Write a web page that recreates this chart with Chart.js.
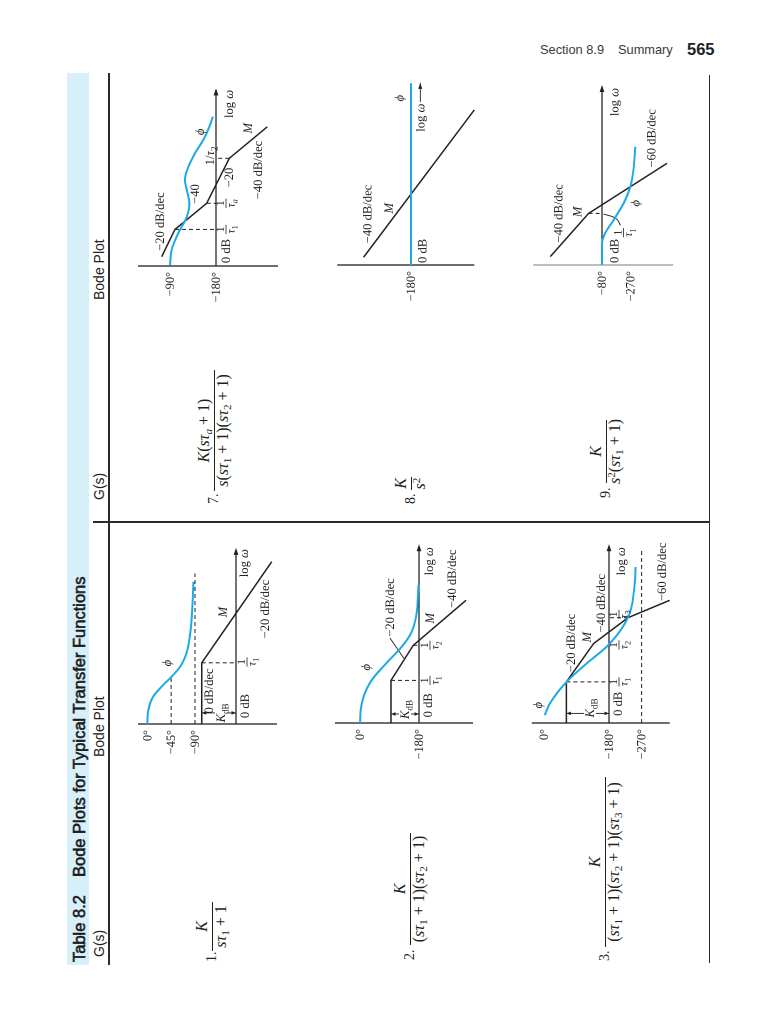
<!DOCTYPE html>
<html><head><meta charset="utf-8">
<script src="https://cdn.jsdelivr.net/npm/chart.js@4.4.0/dist/chart.umd.min.js"></script>
<style>
html,body{margin:0;padding:0;background:#fff;}
body{width:768px;height:1024px;position:relative;overflow:hidden;font-family:"Liberation Sans",Arial,sans-serif;}
#page{position:absolute;left:0;top:0;width:1024px;height:768px;transform-origin:0 0;transform:translate(0,1024px) rotate(-90deg);}
.abs{position:absolute;white-space:nowrap;}
.rule{position:absolute;background:#2b2b2b;}
.sans{font-family:"Liberation Sans",Arial,sans-serif;}
.serif{font-family:"Liberation Serif","DejaVu Serif","Times New Roman",serif;color:#231f20;}
canvas{position:absolute;}
.sub{font-size:0.7em;vertical-align:-0.28em;line-height:0;}
.sup{font-size:0.7em;vertical-align:0.45em;line-height:0;}
</style></head>
<body>
<div id="page"></div>
<script>
// ---------------- DATA ----------------
// x = log ω (decades from the plot origin), magnitude in dB, phase in degrees
const p1MagW = [0, 2.04, 5.41];
const p1MagDB = [34.3, 34.3, -35.7];
const p1PhW = [0, 0.47, 0.91, 1.3, 1.58, 1.91, 2.37, 3.03, 3.91, 4.74];
const p1PhDeg = [0, -2, -11, -30, -46, -62, -74, -81, -85, -87];
const p1Ticks = [0, -45, -90];
const p1TickLabels = ['0°', '−45°', '−90°'];

const p2MagW = [0, 1.42, 2.59, 4.09];
const p2MagDB = [28, 28, 5.7, -47];
const p2PhW = [0, 0.5, 1.0, 1.45, 2.0, 2.55, 3.0, 3.6, 4.6];
const p2PhDeg = [0, -3, -15, -37, -81, -128, -156, -172, -178];
const p2Ticks = [0, -180];
const p2TickLabels = ['0°', '−180°'];

const p3MagW = [0, 1.37, 2.65, 3.51, 4.09];
const p3MagDB = [42.6, 42.6, 15.3, -19, -60.7];
const p3PhW = [0.26, 0.65, 1.37, 1.98, 2.62, 3.51, 4.65, 5.2];
const p3PhDeg = [-3, -17, -63, -118, -180, -232, -251, -253];
const p3Ticks = [0, -180, -270];
const p3TickLabels = ['0°', '−180°', '−270°'];

const p7MagW = [0.31, 1.22, 2.09, 3.59, 4.64];
const p7MagDB = [54.3, 41, 9.3, -13.3, -51.3];
const p7PhW = [0.03, 0.53, 1.09, 1.64, 2.09, 2.53, 2.87, 3.31, 3.76, 4.2, 4.64, 4.98];
const p7PhDeg = [-90, -93, -106, -123, -128, -123, -119, -126, -139, -155, -167, -174];
const p7Ticks = [-90, -180];
const p7TickLabels = ['−90°', '−180°'];

const p8MagW = [0.26, 5.17];
const p8MagDB = [47.4, -63.3];
const p8PhW = [0, 6.06];
const p8PhDeg = [-180, -180];
const p8Ticks = [-180];
const p8TickLabels = ['−180°'];

const p9MagW = [0.28, 1.72, 3.39];
const p9MagDB = [51.7, 13.4, -65];
const p9PhW = [0, 0.72, 1.06, 1.5, 2.06, 2.61, 3.17, 3.94];
const p9PhDeg = [-180, -180, -190, -217, -249, -270, -280, -286];
const p9Ticks = [-180, -270];
const p9TickLabels = ['−80°', '−270°'];

// ---------------- STYLE / LAYOUT ----------------
const INK = '#231f20';
const BLUE = '#1da9e4';
const SERIF = '"Liberation Serif","DejaVu Serif","Times New Roman",serif';
const PXDEC = 30, LEFT = 55, RIGHT = 195, UP = 110, DOWN = 75;
const LBL = 12.6, TICK = 12.4, FRAC = 11.5;

const page = document.getElementById('page');

function addText(parent, html, u, base, size, cls, align, extra) {
  const el = document.createElement('div');
  el.className = 'abs ' + cls;
  el.innerHTML = html;
  el.style.fontSize = size + 'px';
  el.style.lineHeight = size + 'px';
  el.style.left = u + 'px';
  el.style.top = (base - 0.84 * size) + 'px';
  if (align === 'center') el.style.transform = 'translateX(-50%)';
  if (align === 'right') el.style.transform = 'translateX(-100%)';
  if (extra) Object.assign(el.style, extra);
  parent.appendChild(el);
  return el;
}
function addRule(parent, l, t, w, h, color) {
  const d = document.createElement('div');
  d.className = 'rule';
  d.style.left = l + 'px'; d.style.top = t + 'px';
  d.style.width = w + 'px'; d.style.height = h + 'px';
  if (color) d.style.background = color;
  parent.appendChild(d);
}

// page header (unrotated)
addText(document.body, 'Section 8.9', 540, 55, 12.8, 'sans', 'left', {color:'#3a3a3a'});
addText(document.body, 'Summary', 618, 55, 12.8, 'sans', 'left', {color:'#3a3a3a'});
addText(document.body, '565', 687, 55, 16.5, 'sans', 'left', {fontWeight:'bold', color:'#222'});

// table frame (rotated page coordinates)
const band = document.createElement('div');
band.className = 'abs';
Object.assign(band.style, {left:'59px', top:'67px', width:'892px', height:'22px', background:'#d6eff9'});
page.appendChild(band);
const titleStyle = {color:'#1a1a1a', webkitTextStroke:'0.55px #1a1a1a'};
addText(page, 'Table 8.2', 62, 85, 16.5, 'sans', 'left', titleStyle);
addText(page, 'Bode Plots for Typical Transfer Functions', 147, 85, 16.5, 'sans', 'left', titleStyle);
addText(page, 'G(s)', 67, 104, 14, 'sans', 'left', {color:'#222'});
addText(page, 'Bode Plot', 267, 104, 14, 'sans', 'left', {color:'#222'});
addText(page, 'G(s)', 524, 104, 14, 'sans', 'left', {color:'#222'});
addText(page, 'Bode Plot', 724, 104, 14, 'sans', 'left', {color:'#222'});
addRule(page, 59, 108.4, 892, 1.3);
addRule(page, 501.4, 93, 1.3, 616.5);
addRule(page, 61, 708.6, 888, 1.3);

// formulas
const S = s => '<span class="sub">' + s + '</span>';
const P = s => '<span class="sup">' + s + '</span>';
const st = n => '<i>sτ</i>' + S(n) + ' + 1';
const formulas = [
  {n:'1.', nu:62, num:'<i>K</i>', den: st('1'), u1:73, u2:122, v:212},
  {n:'2.', nu:64, num:'<i>K</i>', den:'(' + st('1') + ')(' + st('2') + ')', u1:79, u2:191, v:410},
  {n:'3.', nu:63, num:'<i>K</i>', den:'(' + st('1') + ')(' + st('2') + ')(' + st('3') + ')', u1:77, u2:247, v:605},
  {n:'7.', nu:520, num:'<i>K</i>(<i>sτ</i>' + S('<i>a</i>') + ' + 1)', den:'<i>s</i>(' + st('1') + ')(' + st('2') + ')', u1:533, u2:654, v:214},
  {n:'8.', nu:520, num:'<i>K</i>', den:'<i>s</i>' + P('2'), u1:534, u2:547, v:411},
  {n:'9.', nu:526, num:'<i>K</i>', den:'<i>s</i>' + P('2') + '(' + st('1') + ')', u1:541, u2:604, v:606}
];
formulas.forEach(f => {
  addText(page, f.n, f.nu, f.v + 5, 14, 'serif', 'left');
  addRule(page, f.u1, f.v - 0.5, f.u2 - f.u1, 1, INK);
  addText(page, f.num, (f.u1 + f.u2) / 2, f.v - 4.5, 16, 'serif', 'center');
  addText(page, f.den, (f.u1 + f.u2) / 2, f.v + 14.5, 16, 'serif', 'center');
});

// ---------------- rich text helpers for canvas ----------------
function runsOf(s) {
  const runs = []; let it = false, i = 0, buf = '';
  const push = (t, mode) => { if (t) runs.push({t, it, mode}); };
  while (i < s.length) {
    const c = s[i];
    if (c === '*') { push(buf, 'n'); buf = ''; it = !it; i++; }
    else if ((c === '_' || c === '^') && s[i + 1] === '{') {
      push(buf, 'n'); buf = '';
      const j = s.indexOf('}', i);
      push(s.slice(i + 2, j), c === '_' ? 'sub' : 'sup');
      i = j + 1;
    } else { buf += c; i++; }
  }
  push(buf, 'n');
  return runs;
}
function fontFor(r, size) {
  const sz = r.mode === 'n' ? size : size * 0.72;
  return (r.it ? 'italic ' : '') + sz.toFixed(1) + 'px ' + SERIF;
}
function richWidth(ctx, runs, size) {
  let w = 0;
  runs.forEach(r => { ctx.font = fontFor(r, size); w += ctx.measureText(r.t).width; });
  return w;
}
function drawRuns(ctx, runs, x, base, size) {
  let cx = x;
  runs.forEach(r => {
    ctx.font = fontFor(r, size);
    let b = base;
    if (r.mode === 'sub') b += size * 0.28;
    if (r.mode === 'sup') b -= size * 0.42;
    ctx.fillText(r.t, cx, b);
    cx += ctx.measureText(r.t).width;
  });
}
function drawLabel(ctx, s, px, py, align, size) {
  const runs = runsOf(s);
  const w = richWidth(ctx, runs, size);
  const x = align === 'right' ? px - w : align === 'left' ? px : px - w / 2;
  drawRuns(ctx, runs, x, py + size * 0.33, size);
}
function drawFrac(ctx, num, den, px, py, size) {
  const rn = runsOf(num), rd = runsOf(den);
  const wn = richWidth(ctx, rn, size), wd = richWidth(ctx, rd, size);
  const w = Math.max(wn, wd) + 1;
  ctx.beginPath(); ctx.moveTo(px - w / 2, py); ctx.lineTo(px + w / 2, py);
  ctx.lineWidth = 0.8; ctx.strokeStyle = INK; ctx.stroke();
  drawRuns(ctx, rn, px - wn / 2, py - 2, size);
  drawRuns(ctx, rd, px - wd / 2, py + size * 0.74, size);
}
function head(ctx, x, y, dx, dy, L, W) {
  const nx = -dy, ny = dx;
  ctx.beginPath();
  ctx.moveTo(x, y);
  ctx.lineTo(x - dx * L + nx * W, y - dy * L + ny * W);
  ctx.lineTo(x - dx * L - nx * W, y - dy * L - ny * W);
  ctx.closePath(); ctx.fill();
}

const bodePlugin = {
  id: 'bode',
  afterDatasetsDraw(chart, args, o) {
    const ctx = chart.ctx;
    const X = v => chart.scales.x.getPixelForValue(v);
    const Y = (v, ax) => chart.scales[ax || 'y'].getPixelForValue(v);
    ctx.save();
    ctx.fillStyle = INK; ctx.strokeStyle = INK;
    ctx.textAlign = 'left'; ctx.textBaseline = 'alphabetic';
    if (o.logEnd != null) head(ctx, X(o.logEnd), Y(0), 1, 0, 7, 2.4);
    (o.dims || []).forEach(d => {
      const x = X(d.x), a = Y(d.y1), b = Y(d.y2), g1 = Y(d.gy) - d.gh, g2 = Y(d.gy) + d.gh;
      ctx.lineWidth = 0.9;
      ctx.beginPath(); ctx.moveTo(x, a); ctx.lineTo(x, g1); ctx.moveTo(x, g2); ctx.lineTo(x, b); ctx.stroke();
      head(ctx, x, a, 0, -1, 4.5, 1.8);
      head(ctx, x, b, 0, 1, 4.5, 1.8);
    });
    if (o.textArrow) {
      const t = o.textArrow, y = Y(t.y);
      ctx.lineWidth = 0.9;
      ctx.beginPath(); ctx.moveTo(X(t.x1), y); ctx.lineTo(X(t.x2), y); ctx.stroke();
      head(ctx, X(t.x2), y, 1, 0, 6, 2);
    }
    (o.ticks || []).forEach((deg, i) => drawLabel(ctx, o.tickLabels[i], X(-0.2), Y(deg, 'y2'), 'right', TICK));
    (o.labels || []).forEach(l => drawLabel(ctx, l.t, X(l.x), Y(l.y), l.a || 'center', LBL));
    (o.fracs || []).forEach(f => drawFrac(ctx, f.n, f.d, X(f.x), Y(f.y), FRAC));
    ctx.restore();
  }
};

const pts = (xs, ys) => xs.map((x, i) => ({x, y: ys[i]}));

const TAU = n => '*τ*_{' + n + '}';
const plots = [
  { u0:300, v0:236, ref:[0, 88.7, -90, 41], axisDB:[98, -41], axisColor:INK, logEnd:5.87,
    magW:p1MagW, magDB:p1MagDB, phW:p1PhW, phDeg:p1PhDeg, ticks:p1Ticks, tickLabels:p1TickLabels,
    corners:[1], phGuides:[[-45, 0, 1.58], [-90, 0, 5.02]], dims:[{x:0.37, y1:p1MagDB[0], y2:0, gy:15, gh:6}],
    labels:[{x:5.83, y:-8, t:'log *ω*', a:'right'}, {x:3.83, y:-29, t:'−20 dB/dec'}, {x:3.73, y:13, t:'*M*'},
            {x:0.6, y:-9, t:'0 dB'}, {x:1.1, y:27, t:'0 dB/dec'}, {x:0.37, y:15, t:'*K*_{dB}'}, {x:2.03, y:69, t:'*ϕ*'}],
    fracs:[{x:2.07, y:-11, n:'1', d:TAU(1)}] },
  { u0:301.3, v0:419, ref:[0, 59, -180, 0], axisDB:[84, -54], axisColor:INK, logEnd:5.96,
    magW:p2MagW, magDB:p2MagDB, phW:p2PhW, phDeg:p2PhDeg, ticks:p2Ticks, tickLabels:p2TickLabels,
    corners:[1, 2], phGuides:[], dims:[{x:0.3, y1:p2MagDB[0], y2:0, gy:14, gh:6}],
    leaders:[{p:[[2.83, 29], [2.15, 15]], t:0}],
    labels:[{x:5.86, y:-10, t:'log *ω*', a:'right'}, {x:4.81, y:-33, t:'−40 dB/dec'}, {x:3.85, y:29, t:'−20 dB/dec'},
            {x:3.49, y:-11, t:'*M*'}, {x:0.59, y:-9, t:'0 dB'}, {x:0.45, y:14, t:'*K*_{dB}'}, {x:1.86, y:53, t:'*ϕ*'}],
    fracs:[{x:1.42, y:-11, n:'1', d:TAU(1)}, {x:2.59, y:-11, n:'1', d:TAU(2)}] },
  { u0:301.3, v0:609.3, ref:[0, 65.3, -180, 0], axisDB:[77.3, -60.7], axisColor:INK, logEnd:5.96,
    magW:p3MagW, magDB:p3MagDB, phW:p3PhW, phDeg:p3PhDeg, ticks:p3Ticks, tickLabels:p3TickLabels,
    corners:[1, 3], phGuides:[[-270, 0, 5.76]], dims:[{x:0.32, y1:p3MagDB[0], y2:0, gy:19, gh:6}],
    labels:[{x:5.86, y:-12, t:'log *ω*', a:'right'}, {x:5.04, y:-53, t:'−60 dB/dec'}, {x:3.99, y:8, t:'−40 dB/dec'},
            {x:2.67, y:38, t:'−20 dB/dec'}, {x:2.86, y:22, t:'*M*'}, {x:0.64, y:-9, t:'0 dB'},
            {x:0.5, y:19, t:'*K*_{dB}'}, {x:0.59, y:71, t:'*ϕ*'}],
    fracs:[{x:1.37, y:-10, n:'1', d:TAU(1)}, {x:2.6, y:-10, n:'1', d:TAU(2)}, {x:3.62, y:-10, n:'1', d:TAU(3)}] },
  { u0:758, v0:216, ref:[-90, 46, -180, 0], axisDB:[78, -62], axisColor:INK, logEnd:5.92,
    magW:p7MagW, magDB:p7MagDB, phW:p7PhW, phDeg:p7PhDeg, ticks:p7Ticks, tickLabels:p7TickLabels,
    corners:[1, 2, 3], phGuides:[], dims:[],
    labels:[{x:5.87, y:-13, t:'log *ω*', a:'right'}, {x:3.2, y:-42, t:'−40 dB/dec'}, {x:4.59, y:-32, t:'*M*'},
            {x:4.47, y:16, t:'*ϕ*'}, {x:2.95, y:-13, t:'−20'}, {x:2.4, y:21, t:'−40'}, {x:1.48, y:56, t:'−20 dB/dec'},
            {x:0.5, y:-10, t:'0 dB'}, {x:3.67, y:6, t:'1/*τ*_{2}'}],
    fracs:[{x:1.22, y:-10, n:'1', d:TAU(1)}, {x:2.09, y:-10, n:'1', d:'*τ_{a}*'}] },
  { u0:759, v0:410.7, ref:[-90, 36, -180, 0], axisDB:[73.7, -63.3], axisColor:INK, logEnd:null,
    magW:p8MagW, magDB:p8MagDB, phW:p8PhW, phDeg:p8PhDeg, ticks:p8Ticks, tickLabels:p8TickLabels,
    corners:[], phGuides:[], dims:[], textArrow:{x1:5.43, x2:6.07, y:-9.3},
    labels:[{x:1.7, y:43.5, t:'−40 dB/dec'}, {x:1.89, y:22.4, t:'*M*'}, {x:0.47, y:-11.5, t:'0 dB'},
            {x:5.56, y:11.7, t:'*ϕ*'}, {x:5.38, y:-9.3, t:'log *ω*', a:'right'}],
    fracs:[] },
  { u0:759, v0:601.7, ref:[-180, 0, -270, -28.3], axisDB:[68.7, -71.3], axisColor:'#9a9a9a', logEnd:6,
    magW:p9MagW, magDB:p9MagDB, phW:p9PhW, phDeg:p9PhDeg, ticks:p9Ticks, tickLabels:p9TickLabels,
    corners:[1], phGuides:[], dims:[],
    leaders:[{p:[[1.7, -1.5], [1.55, -14], [1.32, -18.5]], t:0.5}],
    labels:[{x:5.9, y:-12.3, t:'log *ω*', a:'right'}, {x:4.22, y:-49.3, t:'−60 dB/dec'}, {x:1.72, y:43.7, t:'−40 dB/dec'},
            {x:1.77, y:24.7, t:'*M*'}, {x:2.06, y:-33.3, t:'*ϕ*'}, {x:0.47, y:-12.3, t:'0 dB'}],
    fracs:[{x:1.08, y:-21.6, n:'1', d:TAU(1)}] }
];

function makePlot(cfg) {
  const W = LEFT + RIGHT, H = UP + DOWN;
  const c = document.createElement('canvas');
  c.width = W; c.height = H;
  c.style.left = (cfg.u0 - LEFT) + 'px'; c.style.top = (cfg.v0 - UP) + 'px';
  c.style.width = W + 'px'; c.style.height = H + 'px';
  page.appendChild(c);
  const yMin = -DOWN, yMax = UP;
  const [d1, b1, d2, b2] = cfg.ref;
  const toDeg = db => d1 + (db - b1) * (d2 - d1) / (b2 - b1);

  const ds = [];
  ds.push({data: pts(cfg.phW, cfg.phDeg), yAxisID:'y2', borderColor:BLUE, borderWidth:2,
           cubicInterpolationMode:'monotone', order:1});
  ds.push({data: pts(cfg.magW, cfg.magDB), yAxisID:'y', borderColor:INK, borderWidth:1.5, order:2});
  cfg.corners.forEach(i => ds.push({data:[{x:cfg.magW[i], y:cfg.magDB[i]}, {x:cfg.magW[i], y:0}], yAxisID:'y',
           borderColor:INK, borderWidth:1, borderDash:[4, 3], order:3}));
  cfg.phGuides.forEach(g => ds.push({data:[{x:g[1], y:g[0]}, {x:g[2], y:g[0]}], yAxisID:'y2',
           borderColor:INK, borderWidth:1, borderDash:[4, 3], order:3}));
  (cfg.leaders || []).forEach(l => ds.push({data:l.p.map(p => ({x:p[0], y:p[1]})), yAxisID:'y',
           borderColor:INK, borderWidth:0.9, tension:l.t, order:3}));
  ds.push({data:[{x:0, y:cfg.axisDB[0]}, {x:0, y:cfg.axisDB[1]}], yAxisID:'y', borderColor:cfg.axisColor, borderWidth:1.3, order:5});
  if (cfg.logEnd != null)
    ds.push({data:[{x:0, y:0}, {x:cfg.logEnd - 0.15, y:0}], yAxisID:'y', borderColor:INK, borderWidth:1.3, order:4});

  new Chart(c, {
    type: 'scatter',
    data: {datasets: ds.map(d => Object.assign({showLine:true, pointRadius:0, fill:false}, d))},
    options: {
      responsive:false, animation:false, devicePixelRatio:2,
      layout:{padding:0},
      events:[],
      plugins:{legend:{display:false}, tooltip:{enabled:false},
        bode:{logEnd:cfg.logEnd, dims:cfg.dims, ticks:cfg.ticks, tickLabels:cfg.tickLabels,
              labels:cfg.labels, fracs:cfg.fracs, textArrow:cfg.textArrow}},
      scales:{
        x:{type:'linear', display:false, min:-LEFT / PXDEC, max:RIGHT / PXDEC},
        y:{type:'linear', display:false, min:yMin, max:yMax},
        y2:{type:'linear', display:false, min:toDeg(yMin), max:toDeg(yMax)}
      }
    },
    plugins:[bodePlugin]
  });
}
plots.forEach(makePlot);
</script>
</body></html>
